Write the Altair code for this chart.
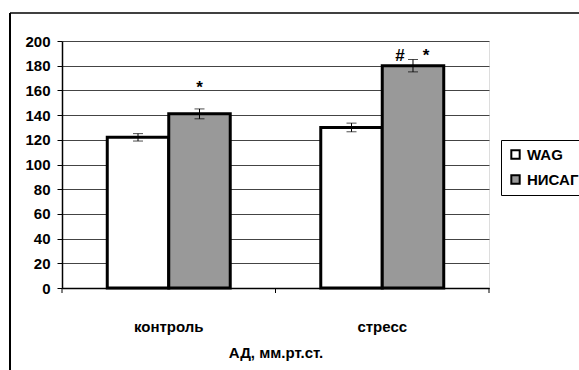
import altair as alt
import pandas as pd

categories = ["контроль", "стресс"]
groups = ["WAG", "НИСАГ"]
wag_values = [122, 130]
nisag_values = [141, 180]
wag_err = [3, 3.5]
nisag_err = [4, 5]
y_ticks = [0, 20, 40, 60, 80, 100, 120, 140, 160, 180, 200]

ann_cat = ["контроль", "стресс", "стресс"]
ann_text = ["*", "#", "*"]
ann_y = [162, 188, 188]
ann_dx = [0, -13, 13]

rows = []
for i, c in enumerate(categories):
    rows.append(dict(cat=c, grp="WAG", val=wag_values[i],
                     lo=wag_values[i] - wag_err[i], hi=wag_values[i] + wag_err[i]))
    rows.append(dict(cat=c, grp="НИСАГ", val=nisag_values[i],
                     lo=nisag_values[i] - nisag_err[i], hi=nisag_values[i] + nisag_err[i]))
df = pd.DataFrame(rows)
ann = pd.DataFrame(dict(cat=ann_cat, grp=["НИСАГ"] * 3, text=ann_text, y=ann_y, dx=ann_dx))
cats_df = pd.DataFrame(dict(cat=categories))

W, H = 427, 247
FONT = "Liberation Sans"
FS = 15

xscale = alt.Scale(domain=categories, paddingInner=0, paddingOuter=0)
xoff_scale = alt.Scale(domain=groups, paddingInner=0, paddingOuter=0.736)
yscale = alt.Scale(domain=[0, 200])

x_axis = alt.Axis(title="АД, мм.рт.ст.", labelAngle=0, ticks=False, domain=True,
                  domainColor="black", domainWidth=1.5, labelPadding=31,
                  titlePadding=11, labelFontSize=FS, titleFontSize=FS,
                  labelFont=FONT, titleFont=FONT, labelFontWeight="bold",
                  titleFontWeight="bold", labelColor="black", titleColor="black",
                  grid=False)
y_axis = alt.Axis(title=None, values=y_ticks, grid=True, gridColor="#444444",
                  gridWidth=1, tickColor="black", tickSize=5, domainColor="black",
                  domainWidth=1.5, labelPadding=7, labelFontSize=FS, labelFont=FONT,
                  labelFontWeight="bold", labelColor="black")


def X(**kw):
    return alt.X("cat:N", scale=xscale, sort=categories, axis=x_axis, **kw)


def Y(field):
    return alt.Y(field, scale=yscale, axis=y_axis)


XO = alt.XOffset("grp:N", scale=xoff_scale, sort=groups)

base = alt.Chart(df)

bars = base.mark_bar(stroke="black", strokeWidth=3).encode(
    x=X(),
    xOffset=XO,
    y=Y("val:Q"),
    fill=alt.Fill("grp:N", scale=alt.Scale(domain=groups, range=["white", "#999999"]),
                  legend=alt.Legend(title=None, orient="none", legendX=439, legendY=99,
                                    symbolType="square", symbolSize=70,
                                    symbolStrokeColor="black", symbolStrokeWidth=2,
                                    labelFont=FONT, labelFontSize=FS,
                                    labelFontWeight="bold", labelColor="black",
                                    strokeColor="black", padding=7, rowPadding=8,
                                    labelOffset=4)),
)

err_rule = base.mark_rule(color="black", strokeWidth=1).encode(
    x=X(), xOffset=XO, y=Y("lo:Q"), y2="hi:Q")
cap_lo = base.mark_tick(color="black", thickness=1, size=10, orient="horizontal").encode(
    x=X(), xOffset=XO, y=Y("lo:Q"))
cap_hi = base.mark_tick(color="black", thickness=1, size=10, orient="horizontal").encode(
    x=X(), xOffset=XO, y=Y("hi:Q"))

layers = [bars, err_rule, cap_lo, cap_hi]

for i in range(len(ann_text)):
    t = alt.Chart(ann).transform_filter(alt.datum.dx == ann_dx[i]).transform_filter(
        alt.datum.text == ann_text[i]).mark_text(
        dx=ann_dx[i], font=FONT, fontSize=17, fontWeight="bold", color="black",
        baseline="middle").encode(x=X(), xOffset=XO, y=Y("y:Q"), text="text:N")
    layers.append(t)

xticks = alt.Chart(cats_df).mark_rule(color="black", strokeWidth=1).encode(
    x=X(bandPosition=0), y=alt.value(H), y2=alt.value(H + 5))
xtick_end = alt.Chart(cats_df.head(1)).mark_rule(color="black", strokeWidth=1).encode(
    x=alt.value(W), y=alt.value(H), y2=alt.value(H + 5))
border_top = alt.Chart(cats_df.head(1)).mark_rule(color="black", strokeWidth=1.5).encode(
    x=alt.value(-52), x2=alt.value(579 - 62), y=alt.value(-28))
border_left = alt.Chart(cats_df.head(1)).mark_rule(color="black", strokeWidth=2).encode(
    x=alt.value(-52), y=alt.value(-28), y2=alt.value(370 - 41))

layers += [xticks, xtick_end, border_top, border_left]

chart = alt.layer(*layers).properties(
    width=W, height=H,
    autosize=alt.AutoSizeParams(type="none"),
    padding={"left": 62, "top": 41, "right": 90, "bottom": 82},
).configure_view(stroke="#888888", strokeWidth=1).configure(background="white")

chart.save("out.html", embed_options={"renderer": "svg", "actions": False})
